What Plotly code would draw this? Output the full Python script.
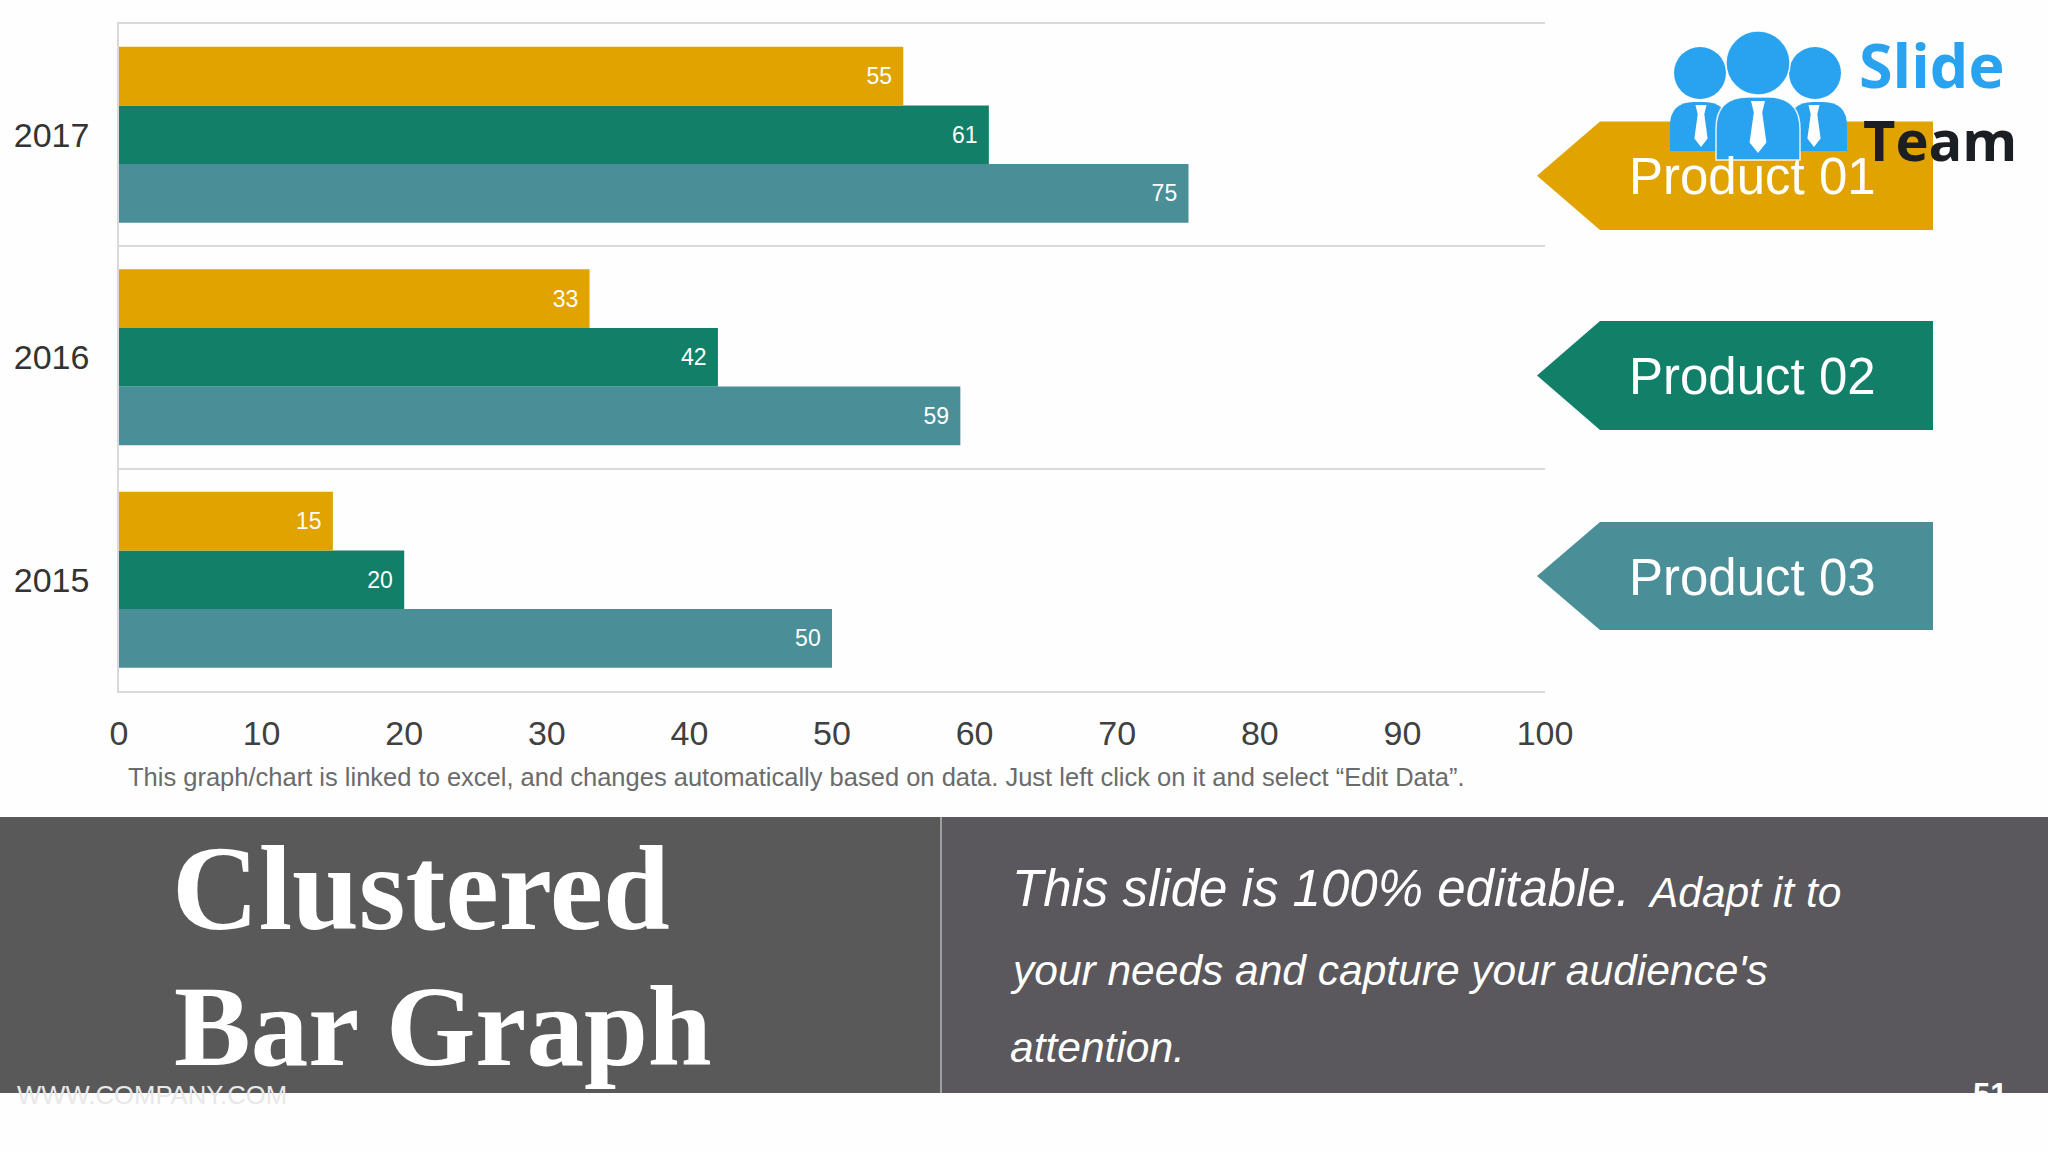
import plotly.graph_objects as go

# ---------------- data ----------------
years = ["2015", "2016", "2017"]
product_names = ["Product 01", "Product 02", "Product 03"]
product_01 = [15, 33, 55]
product_02 = [20, 42, 61]
product_03 = [50, 59, 75]
x_ticks = [0, 10, 20, 30, 40, 50, 60, 70, 80, 90, 100]

colors = {"Product 01": "#E0A300", "Product 02": "#127F68", "Product 03": "#4A8E97"}

W, H = 2048, 1152


def X(px):
    return px / W


def Y(py):
    return 1 - py / H


fig = go.Figure()
# plotly stacks horizontal group bars bottom-up: add Product 03 first
for name, vals in [("Product 03", product_03), ("Product 02", product_02), ("Product 01", product_01)]:
    fig.add_trace(go.Bar(
        y=years, x=vals, orientation="h", name=name,
        marker=dict(color=colors[name], line=dict(width=0)),
        text=vals, texttemplate="%{x}\u00a0\u200a", textposition="inside",
        insidetextanchor="end", cliponaxis=False,
        textfont=dict(family="Liberation Sans, Arial", size=23, color="white"),
        showlegend=False, hoverinfo="skip",
    ))

shapes = []
annotations = []

# ---------- legend arrows ----------
arrow_specs = [("Product 01", 121.5, 230), ("Product 02", 321, 430), ("Product 03", 522, 630)]
for name, top, bot in arrow_specs:
    mid = (top + bot) / 2
    path = (f"M {X(1537)},{Y(mid)} L {X(1600)},{Y(top)} L {X(1933)},{Y(top)} "
            f"L {X(1933)},{Y(bot)} L {X(1600)},{Y(bot)} Z")
    shapes.append(dict(type="path", xref="paper", yref="paper", path=path,
                       fillcolor=colors[name], line=dict(width=0), layer="above"))

# ---------- logo ----------
blue = "#29A3F0"
outline = dict(width=1.5, color="rgba(255,255,255,0.85)")


def body(x0, x1, yt, yb, r):
    return (f"M {X(x0)},{Y(yb)} L {X(x0)},{Y(yt + r)} Q {X(x0)},{Y(yt)} {X(x0 + r)},{Y(yt)} "
            f"L {X(x1 - r)},{Y(yt)} Q {X(x1)},{Y(yt)} {X(x1)},{Y(yt + r)} L {X(x1)},{Y(yb)} Z")


def tie(cx, yt, yb, w):
    k = (yb - yt)
    pts = [(cx - w * 0.5, yt), (cx + w * 0.5, yt), (cx + w * 0.3, yt + 0.22 * k),
           (cx + w * 0.6, yt + 0.8 * k), (cx, yb), (cx - w * 0.6, yt + 0.8 * k),
           (cx - w * 0.3, yt + 0.22 * k)]
    return "M " + " L ".join(f"{X(a)},{Y(b)}" for a, b in pts) + " Z"


def circ(cx, cy, r, color, line=None):
    return dict(type="circle", xref="paper", yref="paper", x0=X(cx - r), x1=X(cx + r),
                y0=Y(cy + r), y1=Y(cy - r), fillcolor=color,
                line=line or dict(width=0), layer="above")


# side people
shapes.append(circ(1700, 73, 26, blue))
shapes.append(circ(1815, 73, 26, blue))
shapes.append(dict(type="path", xref="paper", yref="paper", path=body(1670, 1728, 102, 151, 24),
                   fillcolor=blue, line=dict(width=0), layer="above"))
shapes.append(dict(type="path", xref="paper", yref="paper", path=body(1789, 1847, 102, 151, 24),
                   fillcolor=blue, line=dict(width=0), layer="above"))
shapes.append(dict(type="path", xref="paper", yref="paper", path=tie(1701, 105, 147, 11),
                   fillcolor="white", line=dict(width=0), layer="above"))
shapes.append(dict(type="path", xref="paper", yref="paper", path=tie(1814, 105, 147, 11),
                   fillcolor="white", line=dict(width=0), layer="above"))
# middle person
shapes.append(dict(type="path", xref="paper", yref="paper", path=body(1716, 1800, 97, 160, 32),
                   fillcolor=blue, line=outline, layer="above"))
shapes.append(circ(1758, 63, 32, blue, outline))
shapes.append(dict(type="path", xref="paper", yref="paper", path=tie(1758, 101, 153, 14),
                   fillcolor="white", line=dict(width=0), layer="above"))

# ---------- bottom panel ----------
shapes.append(dict(type="rect", xref="paper", yref="paper", x0=0, x1=X(941), y0=Y(1093), y1=Y(817),
                   fillcolor="#59595A", line=dict(width=0), layer="above"))
shapes.append(dict(type="rect", xref="paper", yref="paper", x0=X(941), x1=1, y0=Y(1093), y1=Y(817),
                   fillcolor="#5A585C", line=dict(width=0), layer="above"))
shapes.append(dict(type="line", xref="paper", yref="paper", x0=X(941), x1=X(941), y0=Y(1093), y1=Y(817),
                   line=dict(width=2, color="#9E9E9E"), layer="above"))

# ---------- annotations ----------
for name, top, bot in arrow_specs:
    annotations.append(dict(text=name, xref="paper", yref="paper", x=X(1752), y=Y((top + bot) / 2 + 1),
                            xanchor="center", yanchor="middle", showarrow=False,
                            font=dict(family="Liberation Sans, Arial", size=51, color="white")))

annotations.append(dict(text="<b>Slide</b>", xref="paper", yref="paper", x=X(1857), y=Y(64),
                        xanchor="left", yanchor="middle", showarrow=False,
                        font=dict(family="Open Sans", size=61, color=blue)))
annotations.append(dict(text="<b>Team</b>", xref="paper", yref="paper", x=X(1861), y=Y(139),
                        xanchor="left", yanchor="middle", showarrow=False,
                        font=dict(family="Open Sans", size=56, color="#1B1F24")))

annotations.append(dict(
    text="This graph/chart is linked to excel, and changes automatically based on data. Just left click on it and select \u201cEdit Data\u201d.",
    xref="paper", yref="paper", x=X(796), y=Y(777), xanchor="center", yanchor="middle", showarrow=False,
    font=dict(family="Liberation Sans, Arial", size=25.5, color="#6B6B6B")))

annotations.append(dict(text="<b>Clustered</b>", xref="paper", yref="paper", x=X(170), y=Y(888),
                        xanchor="left", yanchor="middle", showarrow=False,
                        font=dict(family="Liberation Serif", size=120, color="white")))
annotations.append(dict(text="<b>Bar Graph</b>", xref="paper", yref="paper", x=X(172), y=Y(1026),
                        xanchor="left", yanchor="middle", showarrow=False,
                        font=dict(family="Liberation Serif", size=115, color="white")))

annotations.append(dict(text="<i>This slide is 100% editable.</i>", xref="paper", yref="paper",
                        x=X(1010), y=Y(888), xanchor="left", yanchor="middle", showarrow=False,
                        font=dict(family="Liberation Sans, Arial", size=51, color="white")))
annotations.append(dict(text="<i>Adapt it to</i>", xref="paper", yref="paper",
                        x=X(1645), y=Y(892), xanchor="left", yanchor="middle", showarrow=False,
                        font=dict(family="Liberation Sans, Arial", size=42.5, color="white")))
annotations.append(dict(text="<i>your needs and capture your audience's</i>", xref="paper", yref="paper",
                        x=X(1008), y=Y(970), xanchor="left", yanchor="middle", showarrow=False,
                        font=dict(family="Liberation Sans, Arial", size=42.5, color="white")))
annotations.append(dict(text="<i>attention.</i>", xref="paper", yref="paper",
                        x=X(1008), y=Y(1047), xanchor="left", yanchor="middle", showarrow=False,
                        font=dict(family="Liberation Sans, Arial", size=42.5, color="white")))

annotations.append(dict(text="WWW.COMPANY.COM", xref="paper", yref="paper",
                        x=X(15), y=Y(1095), xanchor="left", yanchor="middle", showarrow=False,
                        font=dict(family="Liberation Sans, Arial", size=25.7, color="#E8E8E8")))
annotations.append(dict(text="<b>51</b>", xref="paper", yref="paper",
                        x=X(1990), y=Y(1094), xanchor="center", yanchor="middle", showarrow=False,
                        font=dict(family="Liberation Sans, Arial", size=31, color="white")))

fig.update_layout(
    width=W, height=H, autosize=False,
    margin=dict(l=0, r=0, t=0, b=0, pad=0),
    paper_bgcolor="#FEFEFE", plot_bgcolor="#FEFEFE",
    barmode="group", bargap=0.21, bargroupgap=0,
    showlegend=False, hovermode=False,
    shapes=shapes, annotations=annotations,
    xaxis=dict(domain=[X(119), X(1545)], range=[0, 100], tickvals=x_ticks, automargin=False,
               showgrid=False, zeroline=False, showline=True, mirror=True,
               linecolor="#D9D9D9", linewidth=1.5, ticks="", ticklabelstandoff=11,
               tickfont=dict(family="Liberation Sans, Arial", size=34, color="#404040")),
    yaxis=dict(domain=[Y(691), Y(23.5)], type="category", categoryorder="array", categoryarray=years,
               automargin=False,
               showgrid=True, gridcolor="#D9D9D9", gridwidth=1.5, tickson="boundaries",
               showline=True, linecolor="#D9D9D9", linewidth=1.5, ticks="", ticklabelstandoff=21,
               zeroline=False,
               tickfont=dict(family="Liberation Sans, Arial", size=34, color="#333333")),
)

fig.write_html(
    "out.html",
    config={"displayModeBar": False},
    post_script="document.body.style.margin='0';document.body.style.padding='0';"
                "document.documentElement.style.overflow='hidden';document.body.style.overflow='hidden';",
)
